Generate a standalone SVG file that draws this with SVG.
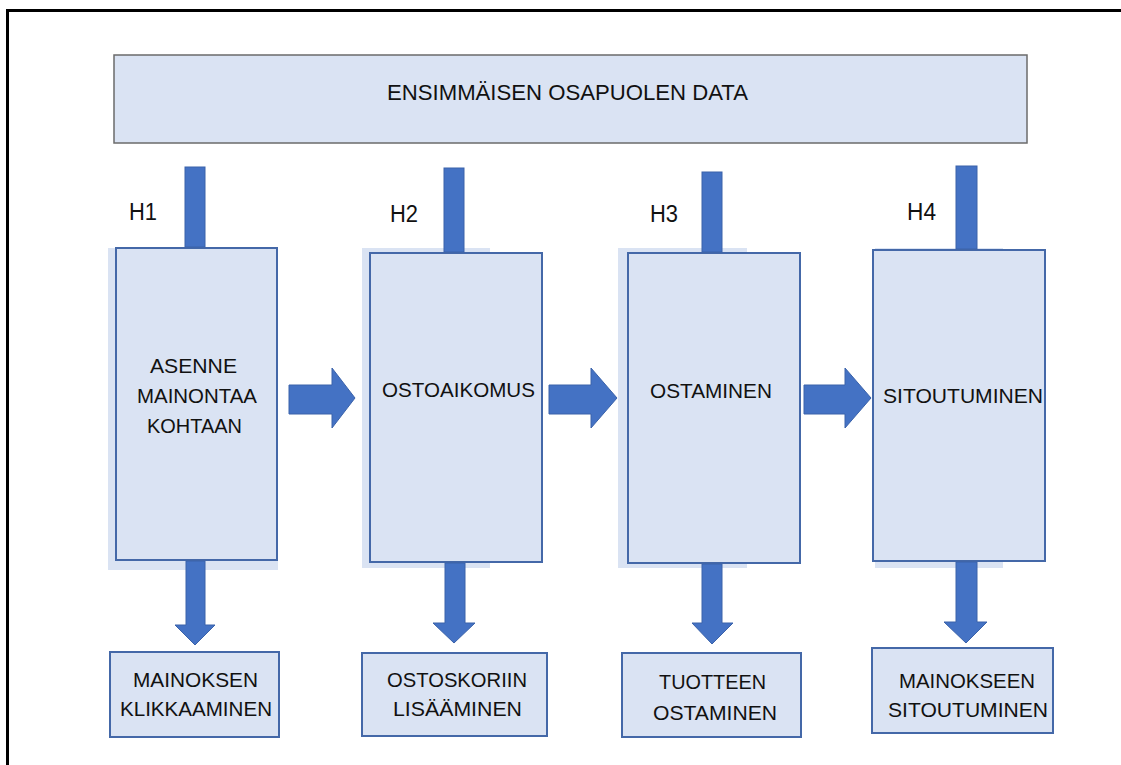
<svg xmlns="http://www.w3.org/2000/svg" width="1121" height="765" viewBox="0 0 1121 765">
<style>
.bg{fill:#dae3f3;stroke:none}
.box{fill:#dae3f3;stroke:#4468a8;stroke-width:2}
.top{fill:#dae3f3;stroke:#6b6b6b;stroke-width:1.5}
.t{font-family:"Liberation Sans",Arial,sans-serif;font-size:21px;fill:#111;text-anchor:start}
.h{font-family:"Liberation Sans",Arial,sans-serif;font-size:23px;fill:#111}
.arr{fill:#4472c4;stroke:#3a62aa;stroke-width:1}
</style>
<path d="M7.5,765 V10.5 H1121" fill="none" stroke="#000" stroke-width="3"/>
<g id="data">
<rect class="top" x="114" y="55" width="913" height="88"/>
<text class="t" x="387" y="100" textLength="361" lengthAdjust="spacingAndGlyphs" style="font-size:22px">ENSIMMÄISEN OSAPUOLEN DATA</text>
</g>
<g id="h1">
<rect class="bg" x="108" y="248" width="170" height="322"/>
<rect class="box" x="116" y="248" width="161" height="312"/>
<text class="h" x="129" y="220" textLength="28" lengthAdjust="spacingAndGlyphs">H1</text>
<text class="t" x="150" y="373" textLength="87" lengthAdjust="spacingAndGlyphs">ASENNE</text>
<text class="t" x="137" y="403" textLength="120" lengthAdjust="spacingAndGlyphs">MAINONTAA</text>
<text class="t" x="147" y="433" textLength="95" lengthAdjust="spacingAndGlyphs">KOHTAAN</text>
</g>
<g id="h2">
<rect class="bg" x="362" y="248" width="128" height="320"/>
<rect class="box" x="370" y="253" width="172" height="309"/>
<text class="h" x="390" y="222" textLength="28" lengthAdjust="spacingAndGlyphs">H2</text>
<text class="t" x="382" y="397" textLength="153" lengthAdjust="spacingAndGlyphs">OSTOAIKOMUS</text>
</g>
<g id="h3">
<rect class="bg" x="618" y="248" width="129" height="320"/>
<rect class="box" x="628" y="253" width="172" height="310"/>
<text class="h" x="650" y="222" textLength="28" lengthAdjust="spacingAndGlyphs">H3</text>
<text class="t" x="650" y="398" textLength="122" lengthAdjust="spacingAndGlyphs">OSTAMINEN</text>
</g>
<g id="h4">
<rect class="bg" x="875" y="248" width="128" height="320"/>
<rect class="box" x="873" y="250" width="172" height="311"/>
<text class="h" x="907" y="220" textLength="29" lengthAdjust="spacingAndGlyphs">H4</text>
<text class="t" x="883" y="403" textLength="160" lengthAdjust="spacingAndGlyphs">SITOUTUMINEN</text>
</g>
<g id="r1">
<rect class="box" x="110" y="652" width="169" height="85"/>
<text class="t" x="133" y="687" textLength="125" lengthAdjust="spacingAndGlyphs">MAINOKSEN</text>
<text class="t" x="120" y="716" textLength="152" lengthAdjust="spacingAndGlyphs">KLIKKAAMINEN</text>
</g>
<g id="r2">
<rect class="box" x="362" y="653" width="185" height="83"/>
<text class="t" x="387" y="687" textLength="140" lengthAdjust="spacingAndGlyphs">OSTOSKORIIN</text>
<text class="t" x="393" y="716" textLength="129" lengthAdjust="spacingAndGlyphs">LISÄÄMINEN</text>
</g>
<g id="r3">
<rect class="box" x="622" y="653" width="179" height="84"/>
<text class="t" x="659" y="689" textLength="107" lengthAdjust="spacingAndGlyphs">TUOTTEEN</text>
<text class="t" x="653" y="720" textLength="124" lengthAdjust="spacingAndGlyphs">OSTAMINEN</text>
</g>
<g id="r4">
<rect class="box" x="872" y="648" width="181" height="85"/>
<text class="t" x="899" y="688" textLength="136" lengthAdjust="spacingAndGlyphs">MAINOKSEEN</text>
<text class="t" x="888" y="717" textLength="160" lengthAdjust="spacingAndGlyphs">SITOUTUMINEN</text>
</g>
<g id="connectors">
<rect class="arr" x="185" y="167" width="20" height="80"/>
<rect class="arr" x="444" y="168" width="20" height="84"/>
<rect class="arr" x="702" y="172" width="20" height="80"/>
<rect class="arr" x="956" y="166" width="21" height="83"/>
<polygon class="arr" points="186,561 205,561 205,625 215,625 195,645 175,625 186,625"/>
<polygon class="arr" points="445,563 465,563 465,623 475,623 454,643 433,623 445,623"/>
<polygon class="arr" points="702,564 722,564 722,623 733,623 712,644 692,623 702,623"/>
<polygon class="arr" points="956,562 977,562 977,622 987,622 966,643 944,622 956,622"/>
<polygon class="arr" points="289,385 332,385 332,368 355,398 332,428 332,414 289,414"/>
<polygon class="arr" points="549,385 591,385 591,368 617,398 591,428 591,414 549,414"/>
<polygon class="arr" points="804,385 845,385 845,368 871,398 845,428 845,414 804,414"/>
</g>
</svg>
